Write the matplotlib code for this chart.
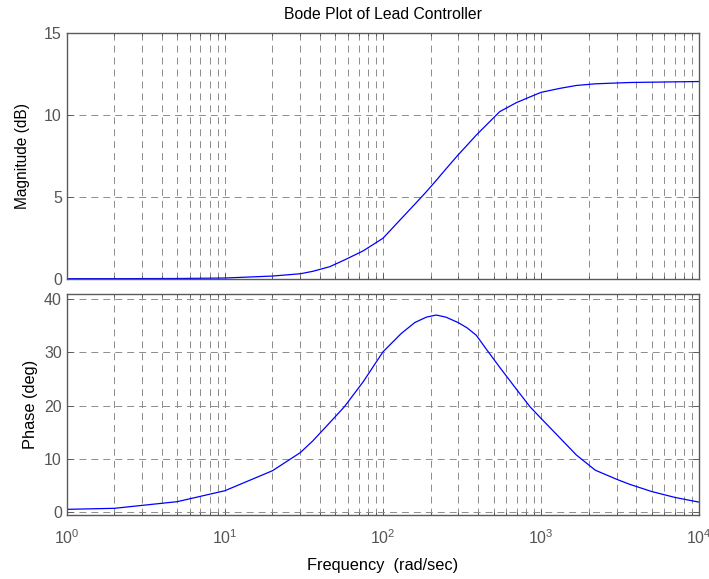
import numpy as np
import matplotlib
matplotlib.use("Agg")
import matplotlib.pyplot as plt
from matplotlib.ticker import LogLocator, NullFormatter

plt.rcParams['font.family'] = ['Liberation Sans', 'DejaVu Sans']
plt.rcParams['mathtext.fontset'] = 'custom'
plt.rcParams['mathtext.rm'] = 'Liberation Sans'
plt.rcParams['mathtext.default'] = 'regular'
plt.rcParams['lines.scale_dashes'] = False

# frequency samples (rad/sec)
freq = [1, 2, 5, 10, 20, 30, 36, 46, 57, 75, 100, 130, 159, 188, 217, 250,
        298, 340, 389, 450, 547, 697, 850, 1000, 1310, 1670, 2200, 3000,
        3630, 5000, 7000, 10000]
# magnitude (dB)
mag_db = [0.0, 0.0, 0.01, 0.04, 0.16, 0.30, 0.45, 0.73, 1.14, 1.7, 2.47,
          3.65, 4.55, 5.31, 6.0, 6.7, 7.55, 8.15, 8.77, 9.38, 10.2, 10.75,
          11.1, 11.38, 11.62, 11.8, 11.9, 11.95, 11.98, 12.0, 12.02, 12.04]
# phase (deg)
phase_deg = [0.56, 0.75, 2.0, 4.05, 7.8, 11.2, 13.4, 16.8, 19.8, 24.5, 30.1,
             33.5, 35.6, 36.6, 37.0, 36.6, 35.6, 34.6, 33.2, 30.6, 27.2, 23.1,
             19.8, 17.6, 14.0, 10.75, 7.9, 6.2, 5.25, 3.9, 2.8, 1.9]

title = 'Bode Plot of Lead Controller'
frame_col = '#5a5a5a'
grid_col = '#8c8c8c'
text_col = '#555555'

fig = plt.figure(figsize=(7.09, 5.79), dpi=100)
ax1 = fig.add_axes([0.0941, 0.5187, 0.8922, 0.4242])
ax2 = fig.add_axes([0.0941, 0.1100, 0.8922, 0.3822], sharex=ax1)

for ax in (ax1, ax2):
    ax.set_xscale('log')
    ax.set_xlim(1, 1e4)
    ax.xaxis.set_major_locator(LogLocator(base=10, numticks=10))
    ax.xaxis.set_minor_locator(LogLocator(base=10, subs=np.arange(2, 10), numticks=20))
    ax.xaxis.set_minor_formatter(NullFormatter())
    ax.grid(True, which='both', axis='x', color=grid_col, linestyle=(0, (5, 3.6)), linewidth=0.7)
    ax.grid(True, which='major', axis='y', color=grid_col, linestyle=(0, (5, 3.6)), linewidth=0.7)
    ax.tick_params(which='both', direction='in', top=True, right=True,
                   colors=frame_col, labelcolor=text_col, labelsize=11.5)
    ax.tick_params(which='major', length=4, width=0.7)
    ax.tick_params(which='minor', length=2.5, width=0.7)
    for sp in ax.spines.values():
        sp.set_color(frame_col)
        sp.set_linewidth(1.0)

ax1.plot(freq, mag_db, color='#0000ff', linewidth=0.9)
ax1.set_ylim(0, 15)
ax1.set_yticks([0, 5, 10, 15])
ax1.tick_params(axis='x', which='both', labelbottom=False)
ax1.set_ylabel('Magnitude (dB)', fontsize=11.2, labelpad=10)
ax1.set_title(title, fontsize=11.3, pad=10)

ax2.plot(freq, phase_deg, color='#0000ff', linewidth=0.9)
ax2.set_ylim(-0.56, 40.94)
ax2.set_yticks([0, 10, 20, 30, 40])
ax2.set_ylabel('Phase (deg)', fontsize=11.8, labelpad=4)
ax2.set_xlabel('Frequency  (rad/sec)', fontsize=11.8, labelpad=8)
ax2.tick_params(axis='x', pad=9)

fig.align_ylabels([ax1, ax2])
fig.savefig('out.png', dpi=100)
